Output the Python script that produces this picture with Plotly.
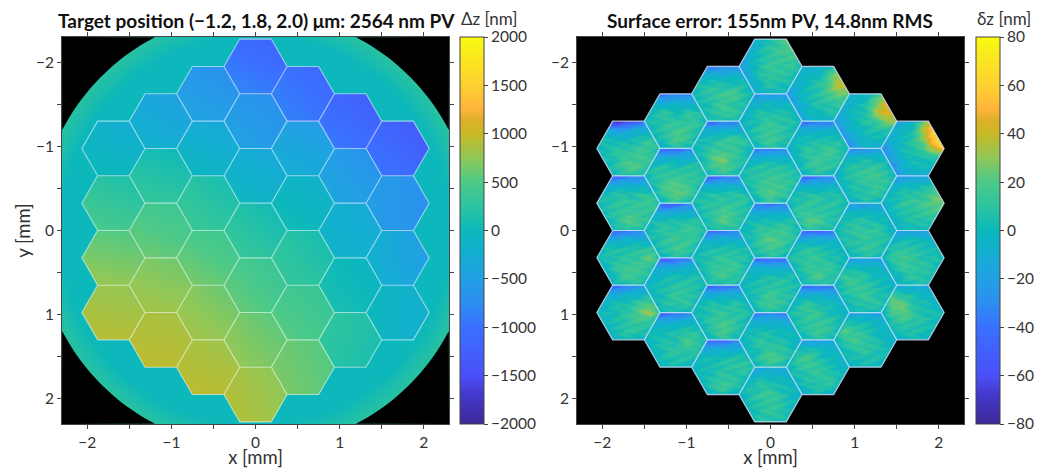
import numpy as np
import plotly.graph_objects as go

# ---------- hexagon layout (mm) ----------
HEX_X = [-1.689]*4 + [-1.126]*5 + [-0.563]*6 + [0.0]*7 + [0.563]*6 + [1.126]*5 + [1.689]*4
HEX_Y = [-0.975, -0.325, 0.325, 0.975,
         -1.3, -0.65, 0.0, 0.65, 1.3,
         -1.625, -0.975, -0.325, 0.325, 0.975, 1.625,
         -1.95, -1.3, -0.65, 0.0, 0.65, 1.3, 1.95,
         -1.625, -0.975, -0.325, 0.325, 0.975, 1.625,
         -1.3, -0.65, 0.0, 0.65, 1.3,
         -0.975, -0.325, 0.325, 0.975]
HEX_R = 0.375
HEX_H = 0.325
APERTURE_R = 2.59
X_TICKS = [-2, -1.5, -1, -0.5, 0, 0.5, 1, 1.5, 2]
X_LABELS = ["\u22122", "", "\u22121", "", "0", "", "1", "", "2"]

# ---------- left panel: target position per hexagon, corners [[TL, TR], [BL, BR]] nm ----------
TARGET = [
    [[-150, -300], [50, -50]], [[250, 100], [500, 400]], [[550, 500], [800, 750]], [[800, 750], [920, 920]],
    [[-350, -500], [-150, -300]], [[100, 0], [350, 250]], [[450, 350], [650, 550]], [[700, 600], [850, 800]], [[880, 830], [960, 930]],
    [[-600, -750], [-400, -550]], [[-250, -400], [0, -150]], [[250, 50], [400, 250]], [[500, 350], [700, 550]], [[750, 550], [850, 750]], [[880, 780], [960, 920]],
    [[-1050, -1200], [-750, -950]], [[-600, -750], [-400, -600]], [[-250, -400], [0, -150]], [[200, 0], [400, 200]], [[500, 300], [650, 450]], [[700, 500], [800, 650]], [[880, 700], [920, 800]],
    [[-950, -1150], [-800, -1000]], [[-450, -600], [-200, -350]], [[-50, -250], [100, -50]], [[250, 50], [350, 200]], [[450, 300], [600, 400]], [[650, 500], [700, 550]],
    [[-1100, -1300], [-850, -1100]], [[-500, -750], [-350, -550]], [[-200, -350], [-100, -250]], [[50, -100], [150, 0]], [[300, 150], [250, 100]],
    [[-1100, -1400], [-900, -1150]], [[-500, -750], [-550, -700]], [[-200, -550], [-150, -500]], [[0, -250], [0, -250]],
]

# ---------- right panel: surface error per hexagon, 7 rows x 7 cols, nm ----------
ERROR = [
 [[-40,-60,-70,-60,-40,-25,-15],[-5,-10,-18,-12,-5,-5,-5],[2,6,4,3,10,14,8],[5,9,10,12,15,18,8],[3,8,12,16,20,15,4],[0,4,12,24,20,10,0],[-5,0,6,10,8,2,-5]],
 [[-35,-42,-40,-35,-30,-25,-15],[-8,-10,-8,-4,-5,-5,-5],[2,8,12,8,12,12,6],[4,10,14,12,14,20,10],[2,8,14,18,16,14,6],[-2,4,12,24,20,8,0],[-6,-2,4,10,6,0,-6]],
 [[-35,-42,-42,-35,-30,-30,-15],[-6,-8,-8,-4,-4,-6,-6],[2,8,10,10,12,14,6],[2,8,10,12,16,26,10],[0,6,14,18,18,12,4],[-2,2,10,20,16,6,0],[-6,-2,2,6,4,0,-6]],
 [[-38,-45,-42,-32,-22,-16,-10],[-10,-10,-8,-2,2,2,0],[0,4,6,8,16,24,10],[0,6,8,12,26,34,14],[-2,4,8,12,16,14,4],[-4,0,8,14,12,6,-2],[-6,-4,0,4,2,-2,-6]],
 [[-32,-36,-36,-32,-28,-26,-15],[-6,-6,-6,-3,-6,-4,-4],[2,8,12,6,10,10,4],[2,10,12,12,16,12,4],[0,6,14,20,18,10,0],[-3,2,10,22,16,4,-3],[-6,-3,2,6,4,-2,-6]],
 [[-38,-44,-44,-40,-34,-30,-15],[-6,-8,-8,-6,-6,-4,-4],[4,10,12,8,10,12,6],[4,10,14,14,16,14,6],[0,8,22,26,18,10,2],[-3,4,16,28,22,6,-3],[-6,-2,4,10,6,-2,-6]],
 [[-36,-44,-50,-44,-34,-26,-15],[-6,-8,-10,-8,-6,-4,-4],[2,8,10,8,12,12,4],[2,10,12,14,16,14,6],[0,8,14,16,18,10,2],[-3,4,12,20,16,6,-3],[-6,-3,4,8,6,-2,-6]],
 [[-42,-46,-50,-44,-34,-26,-15],[-10,-12,-12,-8,-6,-4,-4],[-4,0,4,6,8,6,0],[-2,4,8,12,12,10,2],[0,4,10,14,14,8,0],[-3,2,10,14,12,4,-3],[-6,-2,2,6,4,-2,-6]],
 [[-36,-44,-44,-40,-30,-20,-10],[-8,-8,-8,-6,-2,0,0],[0,4,6,6,12,10,2],[0,6,8,10,20,14,4],[-2,4,10,12,16,10,2],[-4,2,8,12,10,4,-2],[-6,-4,0,4,2,-2,-6]],
 [[-28,-32,-32,-28,-24,-24,-20],[-5,-4,-4,-2,-3,-2,-6],[2,8,12,8,8,6,-2],[3,10,14,18,22,10,0],[0,6,12,16,14,8,-2],[-2,4,10,20,14,6,-4],[-6,-2,4,8,4,-2,-8]],
 [[-36,-42,-42,-36,-32,-28,-20],[-5,-6,-6,-2,-4,-4,-6],[2,6,10,12,20,12,0],[3,8,14,18,14,10,0],[0,6,24,28,16,8,-2],[-3,4,18,26,14,4,-4],[-6,-2,4,10,6,-2,-8]],
 [[-40,-46,-46,-40,-34,-34,-20],[-6,-8,-8,-4,-6,-6,-6],[2,8,10,10,12,10,0],[4,10,12,14,14,12,2],[2,8,14,22,16,10,0],[-2,4,14,24,18,6,-3],[-6,-2,4,10,6,0,-8]],
 [[-38,-44,-42,-36,-32,-34,-20],[-8,-8,-6,-3,-4,-6,-6],[0,6,10,8,10,8,0],[2,8,12,14,14,10,2],[0,6,14,18,16,10,0],[-2,4,14,20,14,6,-3],[-6,-2,4,8,6,0,-8]],
 [[-40,-46,-46,-44,-38,-34,-18],[-8,-8,-8,-6,-4,-6,-6],[0,6,10,8,10,8,0],[2,6,12,14,12,10,2],[0,4,16,20,14,8,0],[-2,2,14,22,14,4,-3],[-6,-2,4,10,4,0,-8]],
 [[-38,-44,-46,-40,-34,-30,-18],[-8,-8,-8,-6,-6,-6,-6],[0,4,6,8,10,12,2],[0,6,8,10,12,14,4],[-2,4,8,14,12,8,0],[-4,2,12,20,12,2,-4],[-6,-4,2,6,2,-2,-8]],
 [[-12,-8,-2,8,18,26,20],[-18,-6,6,12,18,24,16],[-22,-4,8,14,16,20,10],[-22,-2,10,16,14,14,6],[-20,-4,8,14,12,10,2],[-20,-6,4,10,8,4,-2],[-22,-12,-4,2,0,-4,-8]],
 [[-30,-28,-22,-20,-20,-16,-20],[-12,-4,-2,0,-2,0,-6],[-6,4,8,8,8,6,0],[-4,6,12,14,12,10,2],[-4,6,14,18,12,8,0],[-8,2,14,20,14,6,-2],[-12,-4,4,8,4,-2,-8]],
 [[-36,-42,-38,-32,-28,-34,-18],[-6,-6,-4,-2,-4,-4,-4],[2,8,12,10,10,10,2],[4,10,12,18,16,12,4],[2,8,16,20,18,12,2],[-2,4,14,24,16,8,-2],[-6,-2,4,10,6,0,-6]],
 [[-36,-38,-38,-38,-36,-34,-20],[-8,-8,-8,-6,-6,-6,-6],[0,6,8,6,10,10,0],[2,8,12,16,18,14,2],[0,6,18,24,20,12,0],[-2,4,14,20,14,6,-3],[-6,-2,4,10,6,0,-8]],
 [[-38,-42,-44,-44,-42,-38,-20],[-8,-8,-8,-8,-8,-8,-8],[-2,4,6,6,8,8,0],[0,6,10,12,12,10,2],[0,4,12,18,14,8,0],[-4,2,12,20,14,6,-3],[-8,-4,2,8,4,-2,-8]],
 [[-32,-36,-32,-32,-32,-34,-20],[-8,-6,-6,-6,-8,-10,-10],[-2,4,8,6,4,2,-4],[0,8,12,10,8,4,-4],[-2,6,10,14,14,6,-4],[-4,2,14,24,16,6,-4],[-8,-4,4,10,6,0,-8]],
 [[-26,-20,-14,-12,-12,-14,-14],[-8,-2,2,0,0,-2,-8],[-4,8,12,10,6,2,-6],[-2,10,14,16,10,4,-4],[-4,6,12,16,12,4,-4],[-6,2,10,14,12,4,-6],[-8,2,8,6,6,0,-8]],
 [[-10,-6,-6,-4,4,24,30],[-12,-4,0,4,18,36,40],[-16,-2,4,10,26,40,38],[-22,-4,6,10,20,30,24],[-28,-8,4,10,12,14,10],[-34,-14,0,6,8,6,0],[-36,-24,-8,0,0,-4,-8]],
 [[-34,-38,-40,-38,-34,-34,-20],[-14,-6,-4,-2,-2,-2,-4],[-8,4,8,6,8,8,0],[-6,6,12,14,18,12,2],[-6,4,12,16,18,10,0],[-10,0,12,18,14,6,-3],[-14,-6,2,8,4,-2,-8]],
 [[-38,-44,-44,-38,-32,-28,-16],[-6,-6,-6,-4,-4,-2,-2],[2,8,10,10,10,8,2],[2,10,14,14,12,10,2],[0,14,16,12,12,10,2],[-2,6,26,22,12,6,0],[-6,-2,4,10,6,0,-8]],
 [[-40,-44,-46,-44,-40,-34,-22],[-8,-6,-6,-4,-4,-6,-8],[0,6,14,10,6,4,0],[2,12,16,14,10,6,0],[2,8,14,16,14,8,0],[-2,4,12,22,16,6,-4],[-6,-2,4,10,6,-2,-12]],
 [[-36,-42,-44,-42,-38,-40,-26],[-6,-6,-6,-6,-8,-10,-12],[0,8,14,10,4,0,-4],[2,12,16,14,8,2,-2],[0,8,14,16,14,6,-2],[-2,4,12,18,14,4,-4],[-6,0,6,10,6,-2,-10]],
 [[-30,-26,-20,-18,-14,-20,-16],[-8,4,8,4,0,-2,-4],[-2,16,20,10,4,0,-2],[0,10,16,14,8,2,-2],[-2,6,10,14,14,6,-2],[-4,2,6,12,12,4,-4],[-8,-4,-2,4,2,-2,-8]],
 [[-8,-6,-4,-2,14,30,36],[-10,-4,0,6,30,46,50],[-16,-4,4,10,34,50,54],[-24,-8,4,10,18,30,34],[-32,-14,0,6,8,10,8],[-50,-24,-8,2,4,2,-2],[-55,-36,-14,-8,-6,-8,-12]],
 [[-36,-34,-30,-24,-20,-24,-18],[-14,-2,2,4,4,0,-6],[-8,6,12,14,14,8,-2],[-6,8,14,16,20,12,2],[-8,4,10,12,16,12,0],[-14,0,8,12,14,6,-2],[-18,-8,0,6,4,-2,-10]],
 [[-28,-28,-22,-18,-18,-24,-30],[-6,0,2,2,0,-2,-14],[-2,8,12,10,8,4,-8],[0,10,14,16,14,8,-4],[-2,8,12,14,14,8,-2],[-4,4,10,16,12,6,-4],[-8,-2,4,8,6,0,-10]],
 [[-32,-28,-20,-18,-18,-34,-28],[-8,2,4,2,0,-6,-12],[-2,16,14,10,4,0,-4],[0,12,18,14,8,4,-2],[-2,8,14,16,12,6,-2],[-4,2,8,14,12,4,-4],[-10,-4,2,6,4,-2,-10]],
 [[-32,-20,-14,-14,-14,-20,-16],[-8,6,6,4,0,-2,-4],[-2,24,16,10,4,0,-2],[0,14,20,14,8,2,-2],[-2,6,12,14,10,4,-2],[-4,2,6,10,8,2,-4],[-8,-4,0,4,2,-2,-8]],
 [[-10,-14,-10,-4,30,55,60],[-12,-4,0,8,38,66,72],[-18,-6,4,12,32,62,75],[-26,-8,4,10,18,42,60],[-36,-12,0,6,8,8,10],[-60,-28,-6,2,4,2,-2],[-75,-40,-14,-8,-6,-8,-10]],
 [[-38,-26,-20,-18,-14,-8,2],[-14,-4,0,2,4,10,20],[-6,4,10,10,14,24,26],[-4,6,14,14,18,26,30],[-8,2,10,12,16,20,12],[-14,-4,6,10,10,8,2],[-20,-10,-2,4,4,-2,-8]],
 [[-36,-24,-18,-18,-18,-14,-2],[-10,2,4,4,2,0,4],[-6,10,14,12,8,6,4],[-4,14,20,14,10,8,4],[-6,8,14,14,12,8,2],[-10,0,8,12,12,6,0],[-16,-8,0,6,4,-2,-8]],
 [[-38,-14,-8,-8,-12,-24,-16],[-12,18,10,6,2,-2,-4],[-8,30,24,10,6,2,0],[-6,20,28,14,8,6,4],[-8,10,16,12,10,6,2],[-10,2,8,10,8,4,0],[-14,-6,0,4,2,-2,-6]],
]
ERROR_BASE = -3  # overall level read from the teal base of the segments

# fine streaky polishing texture seen across all segments (nm)
RIPPLE = [
 [3,4,1,-2,-4,-3,2,5,4,-1,-4,-4,0,3,4,1,-3],
 [-3,-2,2,5,4,-1,-4,-3,0,4,5,1,-3,-4,-2,2,4],
 [1,-3,-5,-3,1,4,5,1,-4,-5,-1,3,4,0,-3,-3,1],
 [5,4,0,-3,-2,1,0,-4,-3,2,5,4,-1,-5,-4,2,5],
 [-4,-1,3,5,3,-2,-5,-2,3,4,0,-4,-5,-1,4,5,0],
 [0,4,4,-1,-5,-4,2,5,3,-3,-5,-2,3,5,1,-3,-4],
 [2,-2,-4,-4,1,5,4,-2,-5,-2,3,5,2,-4,-5,-1,3],
 [-5,-3,2,4,2,-3,-4,1,4,5,-1,-4,-3,2,4,4,-2],
 [4,5,1,-4,-5,-1,3,4,-2,-4,-3,2,5,3,-2,-5,-3],
 [-1,-4,-4,1,5,4,-2,-5,-4,1,5,3,-3,-4,1,4,5],
 [3,1,-3,-4,-1,3,5,2,-3,-4,-1,2,4,-1,-5,-2,2],
 [-4,2,5,4,-2,-5,-3,1,5,4,-2,-5,-2,3,5,1,-4],
 [1,-4,-3,2,4,1,-4,-5,0,3,4,0,-4,-4,2,5,3],
]
RIPPLE_DX, RIPPLE_DY = 0.05, 0.035

# modified parula colour ramp as seen in the colour bars
RAMP = [[0.0, "#3d2a98"], [0.075, "#4438cc"], [0.125, "#4a50f8"], [0.25, "#3a70ff"], [0.3125, "#2c8ef0"],
        [0.375, "#22a0e4"], [0.4375, "#14aed2"], [0.5, "#0cb8bc"], [0.5625, "#2cc4a0"], [0.625, "#4cc988"],
        [0.6875, "#90c858"], [0.75, "#c8b824"], [0.7875, "#e0b02a"], [0.8125, "#ffb43a"], [0.875, "#fdd030"],
        [1.0, "#f8fa10"]]
RIM_RADII = [2.30, 2.33, 2.36, 2.39, 2.42, 2.45, 2.48, 2.51, 2.54, 2.57]
RIM_COLORS = ["#0eb8ba", "#10b9b8", "#13bab5", "#16bbb2", "#19bcaf", "#1cbdac", "#1fbea9", "#22bfa6", "#25c0a4", "#28c1a2"]
INK = "#333333"
FONT = "Lato"

W, H = 1048, 468
AX_T, AX_B = 37, 424
AX1_L, AX1_R = 62, 449
AX2_L, AX2_R = 577, 964

# ---------- raster each hexagon from its own small table ----------
grid = np.linspace(-2.3, 2.3, 388)
gx, gy = np.meshgrid(grid, grid)
cx, cy = np.array(HEX_X), np.array(HEX_Y)
d2 = (gx[..., None] - cx) ** 2 + (gy[..., None] - cy) ** 2
owner = d2.argmin(axis=-1)


def bilinear(t, u, v):
    i0 = np.minimum(u.astype(int), t.shape[1] - 2)
    j0 = np.minimum(v.astype(int), t.shape[0] - 2)
    fu, fv = u - i0, v - j0
    return (t[j0, i0] * (1 - fu) * (1 - fv) + t[j0, i0 + 1] * fu * (1 - fv)
            + t[j0 + 1, i0] * (1 - fu) * fv + t[j0 + 1, i0 + 1] * fu * fv)


def raster(tables):
    out = np.zeros_like(gx)
    for k, tab in enumerate(tables):
        t = np.asarray(tab, float)
        m = owner == k
        u = np.clip((gx[m] - cx[k] + HEX_R) / (2 * HEX_R), 0, 1) * (t.shape[1] - 1)
        v = np.clip((gy[m] - cy[k] + HEX_H) / (2 * HEX_H), 0, 1) * (t.shape[0] - 1)
        out[m] = bilinear(t, u, v)
    return out


def texture():
    t = np.asarray(RIPPLE, float)
    t = np.vstack([np.hstack([t, t[:, :1]]), np.hstack([t[:1], t[:1, :1]])])
    ny, nx = len(RIPPLE), len(RIPPLE[0])
    return bilinear(t, (gx / RIPPLE_DX) % nx, (gy / RIPPLE_DY) % ny)


def hex_pts(xc, yc):
    a = HEX_R / 2
    return [(xc - HEX_R, yc), (xc - a, yc - HEX_H), (xc + a, yc - HEX_H),
            (xc + HEX_R, yc), (xc + a, yc + HEX_H), (xc - a, yc + HEX_H)]


def loop(pts):
    return "M" + "L".join(f"{x:.4f},{y:.4f}" for x, y in pts) + "Z"


RECT = loop([(-2.3, -2.3), (2.3, -2.3), (2.3, 2.3), (-2.3, 2.3)])
HEX_LOOPS = "".join(loop(hex_pts(x, y)) for x, y in zip(HEX_X, HEX_Y))


def clip_circle(r):
    t = np.linspace(0, 2 * np.pi, 241)[:-1]
    return loop(list(zip(np.clip(r * np.cos(t), -2.3, 2.3), np.clip(r * np.sin(t), -2.3, 2.3))))


fig = go.Figure()
common = dict(x=grid, y=grid, zsmooth=False, colorscale=RAMP, hoverinfo="skip")
bar = dict(thickness=24.4, thicknessmode="pixels", len=(AX_B - AX_T) / H, lenmode="fraction",
           y=(H - AX_B) / H, yanchor="bottom", ypad=0, xpad=0, xanchor="left",
           outlinecolor="#444444", outlinewidth=1, ticks="outside", ticklen=4, tickwidth=1,
           tickcolor="#444444", tickfont=dict(family=FONT, size=15.5, color=INK))
fig.add_trace(go.Heatmap(z=raster(TARGET), zmin=-2000, zmax=2000, xaxis="x", yaxis="y",
                         colorbar=dict(x=460.3 / W, tick0=-2000, dtick=500, **bar), **common))
fig.add_trace(go.Heatmap(z=raster(ERROR) + ERROR_BASE + texture(), zmin=-80, zmax=80, xaxis="x2", yaxis="y2",
                         colorbar=dict(x=975.6 / W, tick0=-80, dtick=20, **bar), **common))

shapes = []


def path(d, xr, yr, fill=None, line=None, lw=0):
    s = dict(type="path", path=d, xref=xr, yref=yr, layer="above", line=dict(width=lw, color=line or "rgba(0,0,0,0)"))
    s["fillcolor"] = fill or "rgba(0,0,0,0)"
    shapes.append(s)


# left: background inside the aperture, greener towards the rim
path(RECT + HEX_LOOPS, "x", "y", fill="#0cb8bc")
for r0, col in zip(RIM_RADII, RIM_COLORS):
    path(clip_circle(r0) + RECT, "x", "y", fill=col)
# black corners outside the aperture
t = np.linspace(0, np.pi / 2, 60)
for sx, sy in [(-1, -1), (1, -1), (-1, 1), (1, 1)]:
    arc = [(sx * APERTURE_R * np.cos(a), sy * APERTURE_R * np.sin(a)) for a in t]
    arc = [p for p in arc if abs(p[0]) <= 2.3 and abs(p[1]) <= 2.3]
    path(loop(arc + [(sx * 2.3, sy * 2.3)]), "x", "y", fill="#000000")
path(HEX_LOOPS, "x", "y", line="rgba(255,255,255,0.55)", lw=1.1)

# right: black everywhere except in the hexagons
path(RECT + HEX_LOOPS, "x2", "y2", fill="#000000")
path(HEX_LOOPS, "x2", "y2", line="rgba(215,228,255,0.8)", lw=1.2)


def axis(dom, anchor, **kw):
    return dict(domain=dom, anchor=anchor, tickmode="array", tickvals=X_TICKS, ticktext=X_LABELS,
                ticks="outside", ticklen=4, tickwidth=1, tickcolor="#444444", showline=True,
                linecolor="#444444", linewidth=1, mirror="ticks", showgrid=False, zeroline=False,
                tickfont=dict(family=FONT, size=15.5, color=INK), **kw)


xtitle = dict(text="x [mm]", font=dict(family=FONT, size=18.5, color=INK), standoff=1)
dy = [(H - AX_B) / H, (H - AX_T) / H]


def note(text, px, py, size, color=INK):
    return dict(text=text, x=px / W, y=1 - py / H, xref="paper", yref="paper", showarrow=False,
                xanchor="center", yanchor="middle", font=dict(family=FONT, size=size, color=color))


fig.update_layout(
    width=W, height=H, margin=dict(l=0, r=0, t=0, b=0), paper_bgcolor="white", plot_bgcolor="black",
    font=dict(family=FONT, color=INK), shapes=shapes,
    xaxis=axis([AX1_L / W, AX1_R / W], "y", range=[-2.3, 2.3], title=xtitle),
    yaxis=axis(dy, "x", range=[2.3, -2.3], title=dict(text="y [mm]", font=dict(family=FONT, size=18.5, color=INK), standoff=0)),
    xaxis2=axis([AX2_L / W, AX2_R / W], "y2", range=[-2.3, 2.3], title=xtitle),
    yaxis2=axis(dy, "x2", range=[2.3, -2.3]),
    annotations=[
        note("<b>Target position (\u22121.2, 1.8, 2.0) \u03bcm: 2564 nm PV</b>", 256, 21, 19, "#111111"),
        note("<b>Surface error: 155nm PV, 14.8nm RMS</b>", 770, 21, 19, "#111111"),
        note("\u0394z [nm]", 489, 19, 17),
        note("\u03b4z [nm]", 1004, 19, 17),
    ],
)

fig.write_html("out.html", post_script="document.body.style.margin='0';", config={"displayModeBar": False})
